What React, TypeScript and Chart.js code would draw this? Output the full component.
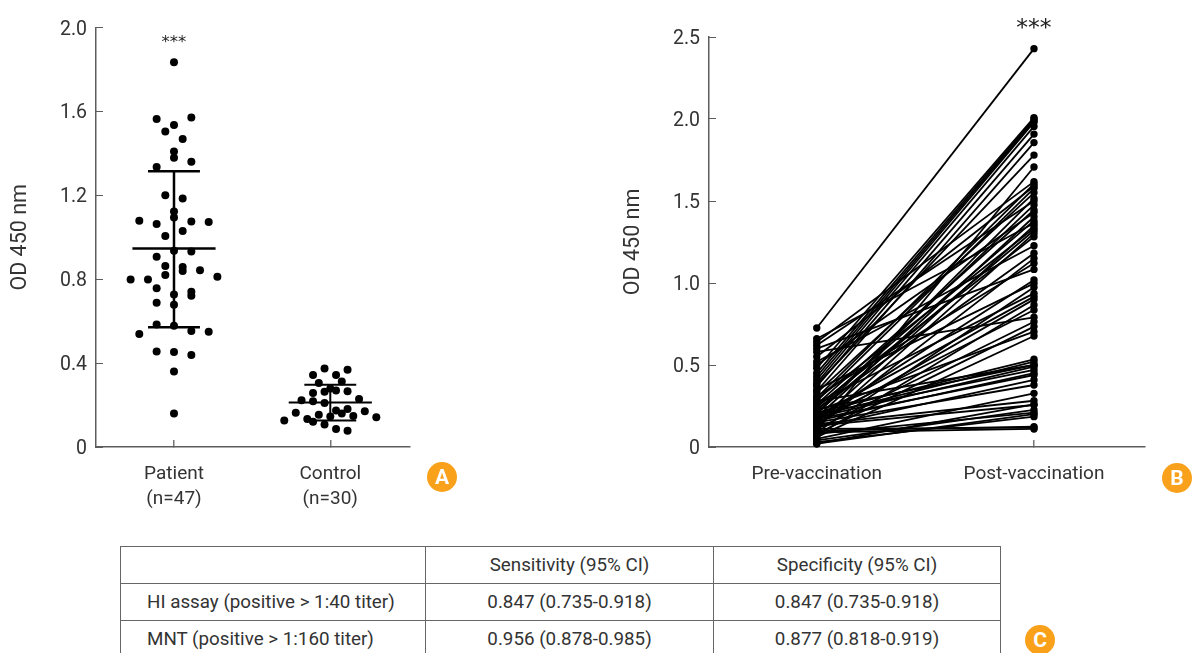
import React, { useEffect, useRef } from "react";
import { Chart, registerables } from "chart.js";

Chart.register(...registerables);

const FONT = "Roboto";
const TEXT = "#333333";
const AXIS = "#5c5c5c";
const ORANGE = "#F9A11B";

const groupLabels = [["Patient", "(n=47)"], ["Control", "(n=30)"]];
const pairLabels = ["Pre-vaccination", "Post-vaccination"];

const patientValues = [1.835, 1.564, 1.572, 1.536, 1.505, 1.469, 1.41, 1.38, 1.361, 1.336, 1.201, 1.185, 1.123, 1.095, 1.079, 1.064, 1.076, 1.073, 1.006, 1.03, 0.936, 0.933, 0.907, 0.863, 0.858, 0.84, 0.843, 0.821, 0.799, 0.799, 0.812, 0.757, 0.74, 0.721, 0.727, 0.688, 0.678, 0.584, 0.578, 0.553, 0.55, 0.539, 0.455, 0.453, 0.439, 0.36, 0.16];
const patientJitter = [0, -2, 2, 0, -1, 1, 0, 0, 2, -2, -1, 1, 0, 0, -4, -2, 2, 4, -1, 1, 0, 2, -2, -1, 1, 1, 3, -1, -5, -3, 5, -2, 2, 2, 0, -2, 0, -2, 0, 2, 4, -4, -2, 0, 2, 0, 0];
const controlValues = [0.374, 0.368, 0.343, 0.344, 0.305, 0.313, 0.279, 0.257, 0.263, 0.27, 0.266, 0.223, 0.218, 0.21, 0.229, 0.174, 0.181, 0.16, 0.163, 0.17, 0.154, 0.146, 0.148, 0.142, 0.126, 0.134, 0.121, 0.107, 0.086, 0.078];
const controlJitter = [-0.5, 1.5, -1.5, 0.5, -1, 1, 0, -1.5, -0.5, 0.5, 1.5, -2.5, -1.5, -0.5, 2.5, 0.5, 1.5, 1, -3, 3, -1, 0, 2, 4, -4, -2, -1.5, -0.5, 0.5, 1.5];
const patientStats = { upper: 1.315, mean: 0.947, lower: 0.571 };
const controlStats = { upper: 0.297, mean: 0.212, lower: 0.126 };

const postValues = [2.429, 2.008, 2.0, 1.99, 1.98, 1.955, 1.908, 1.856, 1.78, 1.707, 1.618, 1.604, 1.59, 1.577, 1.55, 1.516, 1.5, 1.476, 1.445, 1.43, 1.404, 1.38, 1.364, 1.35, 1.334, 1.32, 1.303, 1.282, 1.227, 1.181, 1.15, 1.12, 1.083, 1.018, 0.998, 0.974, 0.937, 0.917, 0.9, 0.866, 0.835, 0.791, 0.764, 0.734, 0.703, 0.677, 0.535, 0.52, 0.5, 0.49, 0.47, 0.45, 0.439, 0.409, 0.378, 0.327, 0.282, 0.256, 0.226, 0.209, 0.185, 0.26, 0.124, 0.11, 0.118, 0.2, 0.5];
const preValues = [0.726, 0.48, 0.45, 0.43, 0.41, 0.39, 0.37, 0.34, 0.38, 0.1, 0.64, 0.3, 0.55, 0.28, 0.33, 0.2, 0.62, 0.22, 0.26, 0.5, 0.18, 0.24, 0.66, 0.15, 0.29, 0.21, 0.12, 0.25, 0.52, 0.23, 0.13, 0.31, 0.6, 0.17, 0.35, 0.09, 0.27, 0.19, 0.14, 0.07, 0.16, 0.58, 0.11, 0.08, 0.22, 0.06, 0.21, 0.19, 0.23, 0.18, 0.2, 0.16, 0.17, 0.12, 0.15, 0.05, 0.14, 0.13, 0.04, 0.08, 0.03, 0.02, 0.1, 0.09, 0.11, 0.02, 0.28];

const tableHeader = ["", "Sensitivity (95% CI)", "Specificity (95% CI)"];
const tableRows = [
  ["HI assay (positive > 1:40 titer)", "0.847 (0.735-0.918)", "0.847 (0.735-0.918)"],
  ["MNT (positive > 1:160 titer)", "0.956 (0.878-0.985)", "0.877 (0.818-0.919)"],
];

const PATIENT_STEP = 0.0555;
const CONTROL_STEP = 0.0736;
const MEAN_HALF = 0.266;
const CAP_HALF = 0.166;

function starsPlugin(xValue: number, yValue: number, size: number) {
  return {
    id: "stars",
    afterDatasetsDraw(chart: any) {
      const { ctx, scales } = chart;
      ctx.save();
      ctx.fillStyle = "#222";
      ctx.font = `${size}px "DejaVu Sans"`;
      ctx.textAlign = "center";
      ctx.textBaseline = "middle";
      ctx.fillText("***", scales.x.getPixelForValue(xValue), scales.y.getPixelForValue(yValue));
      ctx.restore();
    },
  };
}

function baseScales(xMin: number, xMax: number, yMax: number, step: number, leftW: number, labels: any[]) {
  const tick = 7;
  return {
    x: {
      type: "linear",
      min: xMin,
      max: xMax,
      afterBuildTicks: (s: any) => { s.ticks = [{ value: 1 }, { value: 2 }]; },
      afterFit: (s: any) => { s.height = 83; },
      border: { color: AXIS, width: 1.5 },
      grid: { drawOnChartArea: false, tickLength: -tick, color: "#777", lineWidth: 1.5 },
      ticks: {
        autoSkip: false,
        maxRotation: 0,
        minRotation: 0,
        padding: tick + 14,
        color: TEXT,
        font: { family: FONT, size: 19, lineHeight: 1.35 },
        callback: (v: number) => labels[Math.round(v) - 1],
      },
    },
    y: {
      min: 0,
      max: yMax,
      afterFit: (s: any) => { s.width = leftW; },
      border: { color: AXIS, width: 1.5 },
      grid: { drawOnChartArea: false, tickLength: -tick, color: AXIS, lineWidth: 1 },
      title: {
        display: true,
        text: "OD 450 nm",
        color: TEXT,
        font: { family: FONT, size: 21.5 },
        padding: { top: 8, bottom: 0 },
      },
      ticks: {
        stepSize: step,
        padding: tick + 9,
        labelOffset: 2,
        color: TEXT,
        font: { family: FONT, size: 19.5 },
        callback: (v: number) => (v === 0 ? "0" : v.toFixed(1)),
      },
    },
  };
}

function lineSet(points: { x: number; y: number }[], width: number) {
  return {
    type: "line",
    data: points,
    borderColor: "#000",
    borderWidth: width,
    pointRadius: 0,
    fill: false,
  };
}

function statSets(center: number, s: { upper: number; mean: number; lower: number }, width: number) {
  return [
    lineSet([{ x: center - MEAN_HALF, y: s.mean }, { x: center + MEAN_HALF, y: s.mean }], width),
    lineSet([{ x: center - CAP_HALF, y: s.upper }, { x: center + CAP_HALF, y: s.upper }], width),
    lineSet([{ x: center - CAP_HALF, y: s.lower }, { x: center + CAP_HALF, y: s.lower }], width),
    lineSet([{ x: center, y: s.lower }, { x: center, y: s.upper }], width),
  ];
}

function scatterSet(center: number, step: number, vals: number[], jit: number[]) {
  return {
    type: "scatter",
    data: vals.map((y, i) => ({ x: center + jit[i] * step, y })),
    backgroundColor: "#000",
    borderWidth: 0,
    pointRadius: 4,
  };
}

const common = {
  responsive: false,
  animation: false,
  events: [],
  plugins: { legend: { display: false }, tooltip: { enabled: false } },
};

function Badge({ letter, x, y }: { letter: string; x: number; y: number }) {
  return (
    <div
      style={{
        position: "absolute",
        left: x - 15,
        top: y - 15,
        width: 30,
        height: 30,
        borderRadius: "50%",
        background: ORANGE,
        color: "#fff",
        font: `bold 21px/30px ${FONT}`,
        textAlign: "center",
      }}
    >
      {letter}
    </div>
  );
}

const cellBorder = "1.5px solid #666";

export default function App() {
  const aRef = useRef<HTMLCanvasElement>(null);
  const bRef = useRef<HTMLCanvasElement>(null);

  useEffect(() => {
    const a = new Chart(aRef.current as any, {
      type: "scatter",
      data: {
        datasets: [
          ...statSets(1, patientStats, 2.5),
          ...statSets(2, controlStats, 2),
          scatterSet(1, PATIENT_STEP, patientValues, patientJitter),
          scatterSet(2, CONTROL_STEP, controlValues, controlJitter),
        ] as any,
      },
      options: {
        ...common,
        layout: { padding: { top: 10, right: 20, left: 0, bottom: 0 } },
        scales: baseScales(0.501, 2.51, 2, 0.4, 96, groupLabels),
      } as any,
      plugins: [starsPlugin(1, 1.93, 16.5)],
    });
    const b = new Chart(bRef.current as any, {
      type: "line",
      data: {
        datasets: preValues.map((pre, i) => ({
          data: [{ x: 1, y: pre }, { x: 2, y: postValues[i] }],
          borderColor: "#000",
          backgroundColor: "#000",
          borderWidth: 1.8,
          pointRadius: 3.7,
          pointBorderWidth: 0,
          clip: false,
        })) as any,
      },
      options: {
        ...common,
        layout: { padding: { top: 37, right: 52, left: 0, bottom: 0 } },
        scales: baseScales(0.504, 2.511, 2.5, 0.5, 96, pairLabels),
      } as any,
      plugins: [starsPlugin(2, 2.55, 23.5)],
    });
    return () => {
      a.destroy();
      b.destroy();
    };
  }, []);

  return (
    <div style={{ position: "fixed", inset: 0, width: 1197, height: 653, overflow: "hidden", background: "#fff" }}>
      <canvas ref={aRef} width={430} height={530} style={{ position: "absolute", left: 0, top: 0 }} />
      <canvas ref={bRef} width={584} height={530} style={{ position: "absolute", left: 613, top: 0 }} />
      <Badge letter="A" x={442} y={477} />
      <Badge letter="B" x={1177} y={478} />
      <Badge letter="C" x={1040} y={640} />
      <table
        style={{
          position: "absolute",
          left: 120,
          top: 546,
          width: 880,
          borderCollapse: "collapse",
          tableLayout: "fixed",
          font: `18.8px ${FONT}`,
          color: TEXT,
        }}
      >
        <colgroup>
          <col style={{ width: 305 }} />
          <col style={{ width: 288 }} />
          <col style={{ width: 287 }} />
        </colgroup>
        <tbody>
          <tr style={{ height: 37 }}>
            {tableHeader.map((t, i) => (
              <td key={i} style={{ border: cellBorder, textAlign: "center", padding: 0 }}>{t}</td>
            ))}
          </tr>
          {tableRows.map((row, r) => (
            <tr key={r} style={{ height: 37 }}>
              {row.map((t, i) => (
                <td
                  key={i}
                  style={{
                    border: cellBorder,
                    textAlign: i === 0 ? "left" : "center",
                    padding: i === 0 ? "0 0 0 26px" : 0,
                  }}
                >
                  {t}
                </td>
              ))}
            </tr>
          ))}
        </tbody>
      </table>
    </div>
  );
}
